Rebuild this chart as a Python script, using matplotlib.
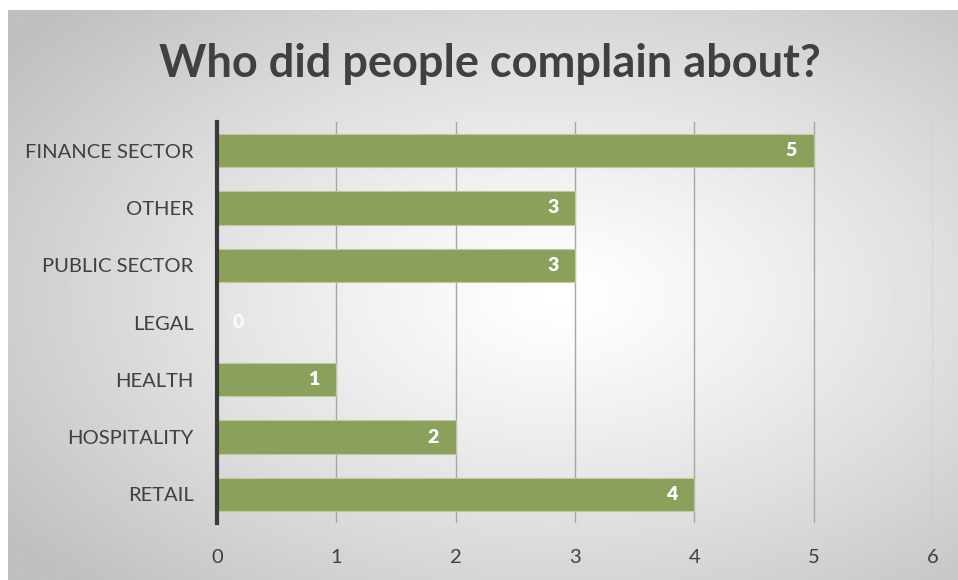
import numpy as np
import matplotlib.pyplot as plt

# data (bottom to top)
categories = ['RETAIL', 'HOSPITALITY', 'HEALTH', 'LEGAL', 'PUBLIC SECTOR', 'OTHER', 'FINANCE SECTOR']
counts = [4, 2, 1, 0, 3, 3, 5]
x_ticks = [0, 1, 2, 3, 4, 5, 6]

bar_color = '#8ba05a'
text_color = '#404040'

plt.rcParams['font.family'] = ['Lato', 'DejaVu Sans']

fig = plt.figure(figsize=(9.58, 5.8), dpi=100)

# grey radial gradient panel behind the chart
bg = fig.add_axes([8/958, 0, 1 - 8/958, 1 - 10/580], zorder=-10)
yy, xx = np.mgrid[0:1:300j, 0:1:500j]
r = np.sqrt(((xx - 0.58) / 0.72) ** 2 + ((yy - 0.5) / 0.72) ** 2)
shade = 1.0 - 0.25 * np.clip(r, 0, 1) ** 1.2
bg.imshow(shade, cmap='gray', vmin=0, vmax=1, aspect='auto', extent=[0, 1, 0, 1])
bg.axis('off')

ax = fig.add_axes([217/958, 1 - 523/580, (933 - 217)/958, (523 - 122)/580])
ax.patch.set_alpha(0)

ypos = np.arange(len(categories))
ax.barh(ypos, counts, height=0.58, color=bar_color, edgecolor='#bccaa0', linewidth=0.8, zorder=3)

# value labels inside the bar ends (the zero one sits just right of the axis)
for y, v in zip(ypos, counts):
    if v > 0:
        ax.annotate(str(v), (v, y), xytext=(-16, 0), textcoords='offset points',
                    ha='center', va='center', color='white', fontsize=14, fontweight='heavy', zorder=4)
    else:
        ax.annotate(str(v), (v, y), xytext=(15, 0), textcoords='offset points',
                    ha='center', va='center', color='white', fontsize=14, fontweight='heavy', alpha=0.8, zorder=4)

ax.set_xlim(0, 6)
ax.set_ylim(-0.5, len(categories) - 0.5)
ax.set_xticks(x_ticks)
ax.set_yticks(ypos)
ax.set_yticklabels(categories)
ax.tick_params(axis='both', length=0, labelsize=14.5, colors=text_color)
ax.tick_params(axis='x', pad=19)
ax.tick_params(axis='y', pad=17)

ax.xaxis.grid(True, color='#a6a6a6', linewidth=1.0, zorder=0)
for s in ['top', 'right', 'bottom']:
    ax.spines[s].set_visible(False)
ax.spines['left'].set_color('#3a3a3a')
ax.spines['left'].set_linewidth(3)
ax.spines['left'].set_zorder(5)

fig.text(490/958, 1 - 64/580, 'Who did people complain about?', ha='center', va='center',
         fontsize=32.5, fontweight='bold', color=text_color)

fig.savefig('out.png', dpi=100)
